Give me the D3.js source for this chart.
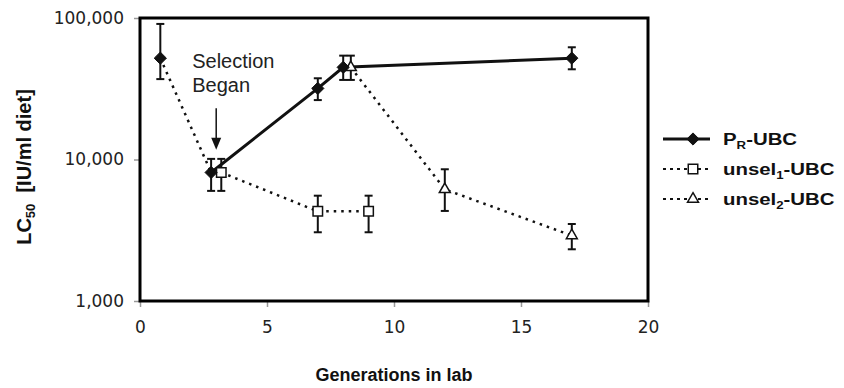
<!DOCTYPE html>
<html>
<head>
<meta charset="utf-8">
<script src="https://cdn.jsdelivr.net/npm/d3@7"></script>
<style>
    body { margin: 0; background: #fff; }
    text { font-family: "Liberation Sans", Arial, sans-serif; fill: #111; }
    .tick-label { font-family: "DejaVu Sans", sans-serif; font-size: 17px; fill: #222; }
</style>
</head>
<body>
<svg width="844" height="388"></svg>
<script>
// data (LC50 in IU/ml diet, with error bar limits)
var prGen = [0.8, 2.8, 7, 8, 17];
var prLC50 = [52000, 8100, 31800, 44800, 52000];
var prLow = [37000, 6000, 26300, 36500, 43400];
var prHigh = [90800, 10100, 37500, 54200, 62100];

var unsel1Gen = [3.2, 7, 9];
var unsel1LC50 = [8100, 4300, 4300];
var unsel1Low = [6000, 3060, 3060];
var unsel1High = [10100, 5550, 5550];

var unsel2Gen = [8.3, 12, 17];
var unsel2LC50 = [44800, 6150, 2900];
var unsel2Low = [36500, 4330, 2320];
var unsel2High = [54200, 8530, 3500];

var xTicks = [0, 5, 10, 15, 20];
var yTicks = [1000, 10000, 100000];

var selectionGen = 3;          // "Selection Began" arrow
var arrowFrom = 23000, arrowTo = 11700;

var svg, margin, width, height, xScale, yScale, g;

// the source picture is stretched sideways, so horizontal text gets a scaleX
function stretchedText(parent, x, y, sx) {
    return parent.append("text")
        .attr("transform", "translate(" + [x, y] + ") scale(" + sx + ",1)");
}

function toPoints(xs, ys, lo, hi) {
    return xs.map(function (d, i) {
        return {x: d, y: ys[i], lo: lo[i], hi: hi[i]};
    });
}

function initLayout() {
    svg = d3.select("svg");
    margin = {top: 18, right: 196, bottom: 87, left: 140};
    width = +svg.attr("width") - margin.left - margin.right;
    height = +svg.attr("height") - margin.top - margin.bottom;

    xScale = d3.scaleLinear().domain([0, 20]).range([0, width]);
    yScale = d3.scaleLog().domain([1000, 100000]).range([height, 0]);

    g = svg.append("g")
        .attr("transform", "translate(" + margin.left + "," + margin.top + ")");
}

function drawAxes() {
    var xAxis = d3.axisBottom(xScale).tickValues(xTicks).tickSize(6).tickPadding(14)
        .tickFormat(d3.format("d"));
    var yAxis = d3.axisLeft(yScale).tickValues(yTicks).tickSize(6).tickPadding(10)
        .tickFormat(d3.format(","));

    var xa = g.append("g")
        .attr("transform", "translate(0," + height + ")")
        .call(xAxis);
    var ya = g.append("g").call(yAxis);

    [xa, ya].forEach(function (a) {
        a.attr("font-size", null).attr("font-family", null);
        a.select(".domain").remove();
        a.selectAll(".tick line").attr("stroke", "#999").attr("stroke-width", 1.5);
        a.selectAll(".tick text").attr("class", "tick-label");
    });

    // plot frame
    g.append("rect")
        .attr("x", 0).attr("y", 0)
        .attr("width", width).attr("height", height)
        .attr("fill", "none")
        .attr("stroke", "#000")
        .attr("stroke-width", 3);

    // axis titles
    svg.append("text")
        .attr("x", margin.left + width / 2)
        .attr("y", 381)
        .attr("text-anchor", "middle")
        .style("font-size", "18px")
        .style("font-weight", "bold")
        .text("Generations in lab");

    var yt = svg.append("text")
        .attr("transform", "translate(" + [31, 167] + ") rotate(-90)")
        .attr("text-anchor", "middle")
        .style("font-size", "20px")
        .style("font-weight", "bold");
    yt.append("tspan").text("LC");
    yt.append("tspan").attr("dy", 4).style("font-size", "13px").text("50");
    yt.append("tspan").attr("dy", -4).text("\u00a0\u00a0[IU/ml diet]");
}

function drawErrorBars(points) {
    var cap = 4;
    var bars = g.append("g").attr("stroke", "#111").attr("stroke-width", 2);
    points.forEach(function (d) {
        var x = xScale(d.x);
        bars.append("line")
            .attr("x1", x).attr("x2", x)
            .attr("y1", yScale(d.lo)).attr("y2", yScale(d.hi));
        [d.lo, d.hi].forEach(function (v) {
            bars.append("line")
                .attr("x1", x - cap).attr("x2", x + cap)
                .attr("y1", yScale(v)).attr("y2", yScale(v));
        });
    });
}

function drawLine(points, dotted) {
    var line = d3.line()
        .x(function (d) { return xScale(d.x); })
        .y(function (d) { return yScale(d.y); });
    return g.append("path")
        .datum(points)
        .attr("d", line)
        .attr("fill", "none")
        .attr("stroke", "#111")
        .attr("stroke-width", dotted ? 2.5 : 3)
        .attr("stroke-dasharray", dotted ? "2.5,5" : null);
}

function markerPath(kind) {
    if (kind === "diamond") return d3.symbol().type(d3.symbolDiamond2).size(95)();
    if (kind === "square") return d3.symbol().type(d3.symbolSquare).size(90)();
    return d3.symbol().type(d3.symbolTriangle).size(52)();
}

function drawMarkers(parent, points, kind) {
    parent.selectAll(null)
        .data(points)
        .enter().append("path")
        .attr("transform", function (d) {
            return "translate(" + [xScale(d.x), yScale(d.y)] + ")";
        })
        .attr("d", markerPath(kind))
        .attr("fill", kind === "diamond" ? "#111" : "#fff")
        .attr("stroke", "#111")
        .attr("stroke-width", kind === "diamond" ? 1 : 1.5);
}

function plotData() {
    var pr = toPoints(prGen, prLC50, prLow, prHigh);
    var u1 = toPoints(unsel1Gen, unsel1LC50, unsel1Low, unsel1High);
    var u2 = toPoints(unsel2Gen, unsel2LC50, unsel2Low, unsel2High);

    // before selection: the founding colony joins by a dotted line
    drawLine(pr.slice(0, 2), true);
    drawLine(u1, true);
    drawLine(u2, true);
    drawLine(pr.slice(1), false);

    drawErrorBars(pr);
    drawErrorBars(u1);
    drawErrorBars(u2);

    drawMarkers(g, u1, "square");
    drawMarkers(g, u2, "triangle");
    drawMarkers(g, pr, "diamond");
}

function drawAnnotation() {
    var ax = xScale(selectionGen);
    var y0 = yScale(arrowFrom), y1 = yScale(arrowTo);
    g.append("line")
        .attr("x1", ax).attr("x2", ax)
        .attr("y1", y0).attr("y2", y1 - 10)
        .attr("stroke", "#111").attr("stroke-width", 1.5);
    g.append("path")
        .attr("d", "M" + (ax - 5) + "," + (y1 - 12) + "L" + (ax + 5) + "," + (y1 - 12) + "L" + ax + "," + y1 + "Z")
        .attr("fill", "#111");

    var t = g.append("text")
        .attr("y", y0 - 40)
        .style("font-size", "20px")
        .style("fill", "#222");
    t.append("tspan").attr("x", ax - 24).text("Selection");
    t.append("tspan").attr("x", ax - 24).attr("dy", 24).text("Began");
}

function drawLegend() {
    var lx = 663, rowY = [139, 169, 199];
    var entries = [
        {main: "P", sub: "R", rest: "-UBC", kind: "diamond", dotted: false},
        {main: "unsel", sub: "1", rest: "-UBC", kind: "square", dotted: true},
        {main: "unsel", sub: "2", rest: "-UBC", kind: "triangle", dotted: true}
    ];
    var legend = svg.append("g").attr("class", "legend");
    entries.forEach(function (e, i) {
        var y = rowY[i];
        legend.append("line")
            .attr("x1", lx).attr("x2", lx + 47)
            .attr("y1", y).attr("y2", y)
            .attr("stroke", "#111")
            .attr("stroke-width", e.dotted ? 2 : 3)
            .attr("stroke-dasharray", e.dotted ? "3,4" : null);
        legend.append("path")
            .attr("transform", "translate(" + [lx + 30, y] + ")")
            .attr("d", markerPath(e.kind))
            .attr("fill", e.kind === "diamond" ? "#111" : "#fff")
            .attr("stroke", "#111")
            .attr("stroke-width", e.kind === "diamond" ? 1 : 1.5);
        var t = stretchedText(legend, 723, y + 6, 1.2)
            .style("font-size", "17px")
            .style("font-weight", "bold");
        t.append("tspan").text(e.main);
        t.append("tspan").attr("dy", 4).style("font-size", "11px").text(e.sub);
        t.append("tspan").attr("dy", -4).text(e.rest);
    });
}

initLayout();
drawAxes();
plotData();
drawAnnotation();
drawLegend();
</script>
</body>
</html>
